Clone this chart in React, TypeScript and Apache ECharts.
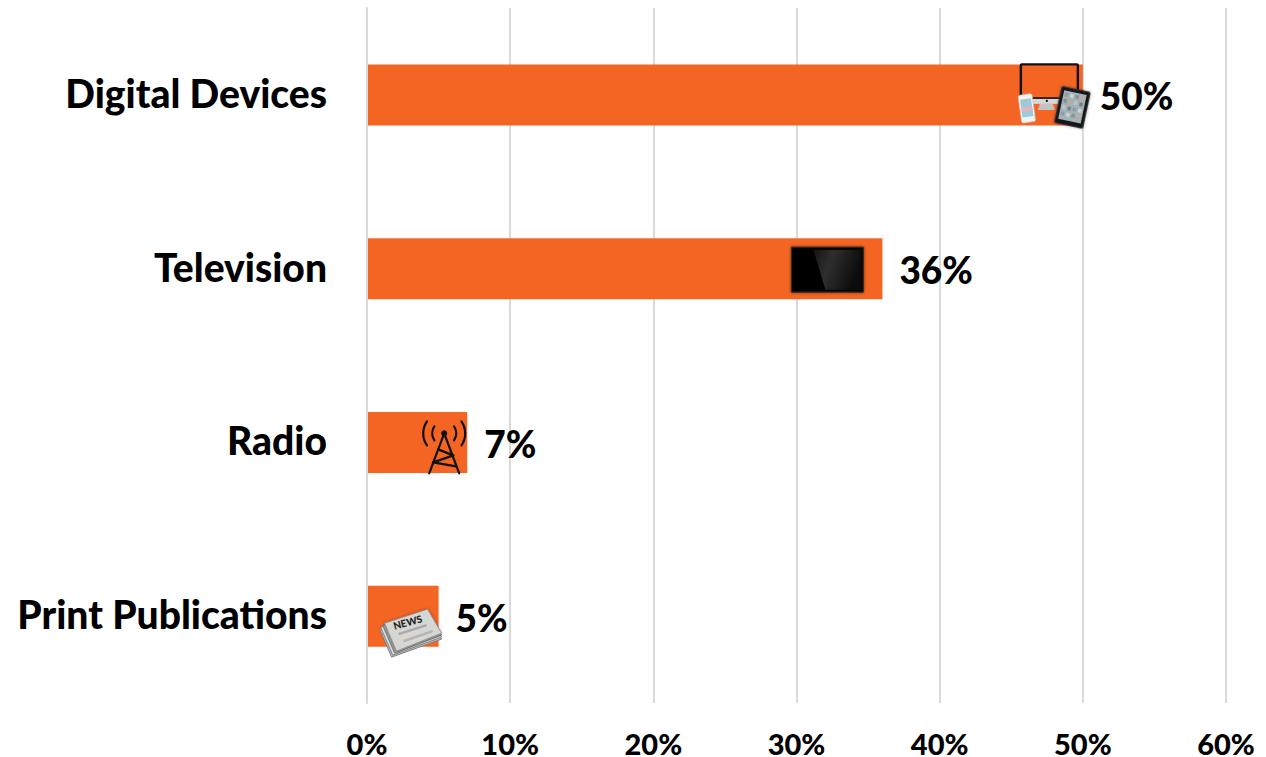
import React, { useEffect, useRef } from "react";
import * as echarts from "echarts";

const categories = ["Digital Devices", "Television", "Radio", "Print Publications"];
const shares = [50, 36, 7, 5];
const iconNames = ["devices", "tv", "tower", "news"];
const axisMax = 60;
const axisStep = 10;

const ORANGE = "#F46524";
const FONT = "Lato, Carlito, sans-serif";
const WEIGHT = 900;

const rad = (deg: number) => (deg * Math.PI) / 180;

// All icon offsets are measured from the end of the bar they sit on.
function devicesIcon() {
  const screenGrid: any[] = [];
  const tints = ["#8d9da3", "#c9d3d6", "#7f949c", "#c9a59c", "#b7c6c9", "#6f868f"];
  for (let r = 0; r < 4; r++) {
    for (let c = 0; c < 4; c++) {
      screenGrid.push({
        type: "rect",
        shape: { x: -10 + c * 5.4, y: -13 + r * 6.4, width: 3.4, height: 3.8 },
        style: { fill: tints[(r * 2 + c) % tints.length] },
      });
    }
  }
  return [
    { type: "rect", shape: { x: -62, y: -30.5, width: 57, height: 34, r: 1 }, style: { fill: "rgba(0,0,0,0)", stroke: "#111", lineWidth: 2.4 } },
    { type: "rect", shape: { x: -50, y: 4, width: 27, height: 5 }, style: { fill: "#d8d8d8" } },
    { type: "polygon", shape: { points: [[-43, 9], [-30, 9], [-28, 15], [-45, 15]] }, style: { fill: "#c2c2c2" } },
    { type: "circle", shape: { cx: -36, cy: 6, r: 1.2 }, style: { fill: "#222" } },
    {
      type: "group", x: -56, y: 13.5, rotation: rad(8),
      children: [
        { type: "rect", shape: { x: -7, y: -14, width: 14, height: 28, r: 2 }, style: { fill: "#f2f4f4", stroke: "#c9c9c9", lineWidth: 0.6 } },
        { type: "rect", shape: { x: -5.5, y: -9.5, width: 11, height: 18 }, style: { fill: "#9ccbd8" } },
        { type: "rect", shape: { x: -5.5, y: -2, width: 11, height: 5 }, style: { fill: "#d9b7c4" } },
      ],
    },
    {
      type: "group", x: -10.5, y: 12.5, rotation: rad(-12),
      children: [
        { type: "rect", shape: { x: -14.5, y: -18.5, width: 29, height: 37, r: 1.5 }, style: { fill: "#15171a", stroke: "#333", lineWidth: 0.8, shadowBlur: 3, shadowColor: "rgba(0,0,0,0.4)" } },
        { type: "rect", shape: { x: -11.5, y: -15, width: 23, height: 29 }, style: { fill: "#a4b2b6" } },
        ...screenGrid,
      ],
    },
  ];
}

function tvIcon() {
  return [
    { type: "rect", shape: { x: -91, y: -21.5, width: 72, height: 45 }, style: { fill: "#060606", stroke: "#3a2a20", lineWidth: 1, shadowBlur: 3, shadowColor: "rgba(40,20,10,0.6)" } },
    {
      type: "polygon",
      shape: { points: [[-69, -19], [-21, -19], [-21, 21], [-57, 21]] },
      style: {
        fill: new echarts.graphic.LinearGradient(0, 0, 1, 0.3, [
          { offset: 0, color: "#141414" },
          { offset: 0.4, color: "#2e2e2e" },
          { offset: 1, color: "#0c0c0c" },
        ]),
      },
    },
  ];
}

function towerIcon() {
  const line = (x1: number, y1: number, x2: number, y2: number) => ({
    type: "line",
    shape: { x1, y1, x2, y2 },
    style: { stroke: "#111", lineWidth: 2.2, lineCap: "round" },
  });
  const arc = (r: number, start: number, end: number) => ({
    type: "arc",
    shape: { cx: -23, cy: -9, r, startAngle: rad(start), endAngle: rad(end) },
    style: { stroke: "#111", lineWidth: 2.2, fill: "none", lineCap: "round" },
  });
  return [
    line(-23, -9, -38, 31),
    line(-23, -9, -8, 31),
    line(-29, 7, -14, 13),
    line(-14, 13, -34, 20),
    line(-34, 20, -11, 24),
    { type: "circle", shape: { cx: -23, cy: -9, r: 3 }, style: { fill: "#111" } },
    arc(12, 145, 215),
    arc(21, 145, 215),
    arc(12, -35, 35),
    arc(21, -35, 35),
  ];
}

function newsIcon() {
  const sheet = (dx: number, dy: number, fill: string) => ({
    type: "polygon",
    shape: { points: [[-54 + dx, 7 + dy], [-11, -7 + dy], [3, 17 + dy], [-42 + dx, 35 + dy]] },
    style: { fill, stroke: "#6f6f6f", lineWidth: 0.8 },
  });
  return [
    sheet(-5, 6, "#bdbdbd"),
    sheet(-4, 4, "#dcdcdc"),
    sheet(-2, 2, "#a0a0a0"),
    {
      type: "polygon",
      shape: { points: [[-54, 7], [-11, -7], [3, 17], [-42, 35]] },
      style: { fill: "#d6d6d3", stroke: "#8a8a8a", lineWidth: 0.8, shadowBlur: 3, shadowColor: "rgba(0,0,0,0.35)" },
    },
    {
      type: "text", x: -31, y: 6, rotation: rad(15),
      style: { text: "NEWS", x: 0, y: 0, font: `900 10px ${FONT}`, fill: "#222", align: "center", verticalAlign: "middle" },
    },
    { type: "line", shape: { x1: -40, y1: 18, x2: -12, y2: 9 }, style: { stroke: "#a9a9a9", lineWidth: 2.5 } },
    { type: "line", shape: { x1: -35, y1: 25, x2: -6, y2: 15 }, style: { stroke: "#b4b4b4", lineWidth: 2.5 } },
  ];
}

const iconBuilders: Record<string, () => any[]> = {
  devices: devicesIcon,
  tv: tvIcon,
  tower: towerIcon,
  news: newsIcon,
};

export default function App() {
  const ref = useRef<HTMLDivElement>(null);

  useEffect(() => {
    const chart = echarts.init(ref.current!, null, { renderer: "svg" });
    chart.setOption({
      animation: false,
      backgroundColor: "#ffffff",
      grid: { left: 367, right: 40, top: 8, bottom: 54, containLabel: false, outerBoundsMode: "none" },
      xAxis: {
        type: "value",
        min: 0,
        max: axisMax,
        interval: axisStep,
        axisLine: { show: false },
        axisTick: { show: false },
        splitLine: { lineStyle: { color: "#d9d9d9", width: 2 } },
        axisLabel: {
          formatter: "{value}%",
          margin: 29,
          lineHeight: 22,
          color: "#000",
          fontFamily: FONT,
          fontWeight: WEIGHT,
          fontSize: 29,
        },
      },
      yAxis: {
        type: "category",
        inverse: true,
        data: categories,
        z: 3,
        // The zero line stays visible on top of the bars' left edges.
        axisLine: { show: true, lineStyle: { color: "#d9d9d9", width: 2 } },
        axisTick: { show: false },
        axisLabel: {
          margin: 40,
          // A short line box anchored by its bottom lifts the text slightly above the band centre.
          verticalAlign: "bottom",
          lineHeight: 4,
          color: "#000",
          fontFamily: FONT,
          fontWeight: WEIGHT,
          fontSize: 39,
        },
      },
      series: [
        {
          type: "bar",
          data: shares,
          barWidth: 61,
          itemStyle: { color: ORANGE },
          label: {
            show: true,
            position: "right",
            distance: 17,
            offset: [0, 1],
            formatter: "{c}%",
            color: "#000",
            fontFamily: FONT,
            fontWeight: WEIGHT,
            fontSize: 37,
          },
        },
        {
          type: "custom",
          clip: false,
          z: 5,
          data: shares.map((v, i) => [v, i]),
          encode: { x: 0, y: 1 },
          renderItem: (params: any, api: any) => {
            const [x, y] = api.coord([api.value(0), api.value(1)]);
            return {
              type: "group",
              x,
              y,
              children: iconBuilders[iconNames[params.dataIndex]](),
            };
          },
        },
      ],
    });
    return () => chart.dispose();
  }, []);

  return <div ref={ref} style={{ position: "fixed", left: 0, top: 0, width: 1266, height: 757 }} />;
}
